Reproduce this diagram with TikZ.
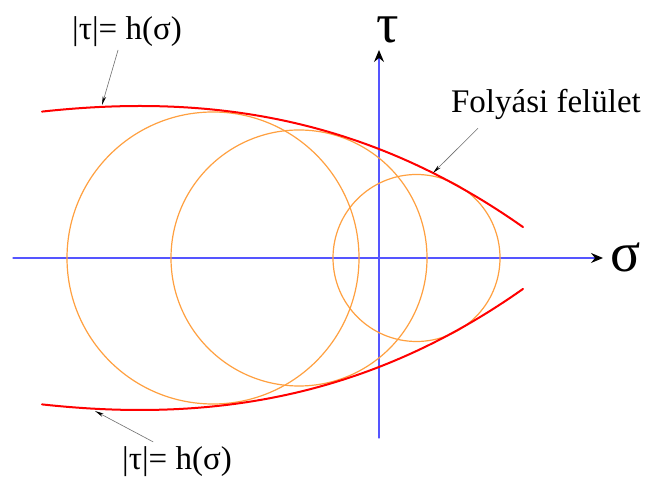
\documentclass[tikz,border=0pt]{standalone}
\usepackage{fontspec}
\setmainfont{Liberation Serif}
\usetikzlibrary{arrows.meta}
\definecolor{AxisBlue}{RGB}{85,85,255}
\definecolor{CircleOrange}{RGB}{255,160,64}
\definecolor{YieldRed}{RGB}{255,0,0}
\definecolor{PointerGray}{RGB}{110,110,110}

\begin{document}
\begin{tikzpicture}[x=1bp,y=1bp,line cap=round,line join=round]
  \path[use as bounding box] (0,0) rectangle (649,482);
  \fill[white] (0,0) rectangle (649,482);

  \tikzset{
    axis/.style={line width=1.2bp,AxisBlue,
      -{Stealth[length=12bp,width=10bp,inset=4bp,color=black]}},
    mohr/.style={line width=1.2bp,CircleOrange},
    yield/.style={line width=2bp,YieldRed},
    pointer/.style={line width=0.6bp,PointerGray,
      -{Stealth[length=9bp,width=3.5bp,color=black]}},
    caption/.style={inner sep=0pt,font=\fontsize{33bp}{33bp}\selectfont},
    axislabel/.style={inner sep=0pt,font=\fontsize{56bp}{56bp}\selectfont},
  }

  % axes
  \coordinate (sigmaStart) at (13,224);
  \coordinate (sigmaEnd) at (603,224);
  \coordinate (tauStart) at (379,44);
  \coordinate (tauEnd) at (379,432);
  \draw[axis] (sigmaStart) -- (sigmaEnd);
  \draw[axis] (tauStart) -- (tauEnd);
  \node[axislabel] (sigma) at (626,225) {σ};
  \node[axislabel] (tau) at (388,452) {τ};

  % Mohr circles
  \foreach \cx/\r in {213/146,299/128,416.5/83.5}
    \draw[mohr] (\cx,224) circle (\r);

  % yield envelope, u = (sigma-140)/100
  \draw[yield] plot[domain=42:523,samples=60]
    (\x,{224+152-6.33*((\x-140)/100)^2-0.502*((\x-140)/100)^3});
  \draw[yield] plot[domain=42:523,samples=60]
    (\x,{224-152+6.33*((\x-140)/100)^2+0.502*((\x-140)/100)^3});

  % labels
  \node[caption] (topLabel) at (127,450) {|τ|= h(σ)};
  \node[caption] (bottomLabel) at (177,20) {|τ|= h(σ)};
  \node[caption] (surfaceLabel) at (546,378) {Folyási felület};
  \coordinate (topTip) at (102,377);
  \coordinate (bottomTip) at (95,71);
  \coordinate (surfaceTip) at (433,309);
  \draw[pointer] ([xshift=-9bp,yshift=-3bp]topLabel.south) -- (topTip);
  \draw[pointer] ([xshift=31bp,yshift=5bp]bottomLabel.north west) -- (bottomTip);
  \draw[pointer] ([xshift=27bp,yshift=-9bp]surfaceLabel.south west) -- (surfaceTip);
\end{tikzpicture}
\end{document}
